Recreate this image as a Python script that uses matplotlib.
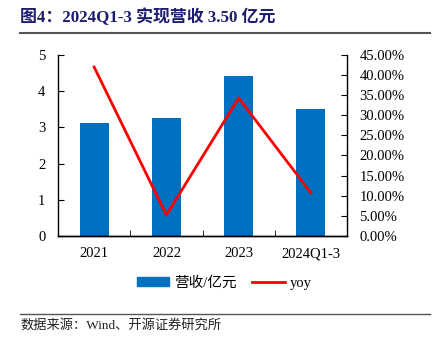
import matplotlib.pyplot as plt
from matplotlib.lines import Line2D
from matplotlib.patches import Patch
from matplotlib.ticker import FuncFormatter

# 数据
categories = ["2021", "2022", "2023", "2024Q1-3"]
revenue = [3.12, 3.27, 4.42, 3.50]      # 营收/亿元
yoy = [42.0, 5.2, 34.3, 10.7]           # 同比 %

title = "图4：2024Q1-3 实现营收 3.50 亿元"
source = "数据来源：Wind、开源证券研究所"

fonts = ["Liberation Serif", "Noto Sans CJK SC", "DejaVu Sans"]
plt.rcParams["font.family"] = fonts

fig = plt.figure(figsize=(4.36, 3.39), dpi=100)
ax = fig.add_axes([0.133, 0.304, 0.663, 0.534])

x = list(range(len(categories)))
ax.bar(x, revenue, width=0.4, color="#0070C0", zorder=2)
ax.set_xlim(-0.5, len(categories) - 0.5)
ax.set_ylim(0, 5)
ax.set_yticks([0, 1, 2, 3, 4, 5])
ax.set_xticks(x)
ax.set_xticklabels(categories)
ax.set_xticks([i + 0.5 for i in x[:-1]], minor=True)
ax.tick_params(axis="x", which="major", length=0, pad=8, labelsize=10.5)
ax.tick_params(axis="x", which="minor", direction="in", length=4)
ax.tick_params(axis="y", direction="in", length=4, labelsize=10.5, pad=9)
ax.spines["top"].set_visible(False)
ax.spines["right"].set_visible(False)

ax2 = ax.twinx()
ax2.plot(x, yoy, color="#FF0000", linewidth=2, zorder=3)
ax2.set_ylim(0, 45)
ax2.set_yticks(range(0, 50, 5))
ax2.yaxis.set_major_formatter(FuncFormatter(lambda v, p: f"{v:.2f}%"))
ax2.tick_params(axis="y", direction="in", length=4, labelsize=10.5, pad=9)
ax2.spines["top"].set_visible(False)
ax2.spines["left"].set_visible(False)

for a in (ax, ax2):
    for s in a.spines.values():
        s.set_linewidth(1.0)

# 图例
handles = [Patch(color="#0070C0"), Line2D([0], [0], color="#FF0000", linewidth=2)]
fig.legend(handles, ["营收/亿元", "yoy"], loc="center", bbox_to_anchor=(0.514, 0.165),
           ncol=2, frameon=False, fontsize=10.5, handlelength=2.2, handleheight=0.6,
           columnspacing=1.1, handletextpad=0.35)

# 标题和来源
fig.text(0.046, 0.95, title, fontsize=12.2, fontweight="bold", color="#1C1C6E",
         va="center", ha="left")
fig.add_artist(Line2D([0.046, 0.986], [0.903, 0.903], color="#555555", linewidth=1.5))
fig.add_artist(Line2D([0.046, 0.986], [0.074, 0.074], color="#555555", linewidth=1.0))
fig.text(0.046, 0.04, source, fontsize=9.5, color="#222222", va="center", ha="left")

fig.savefig("out.png", dpi=100)
